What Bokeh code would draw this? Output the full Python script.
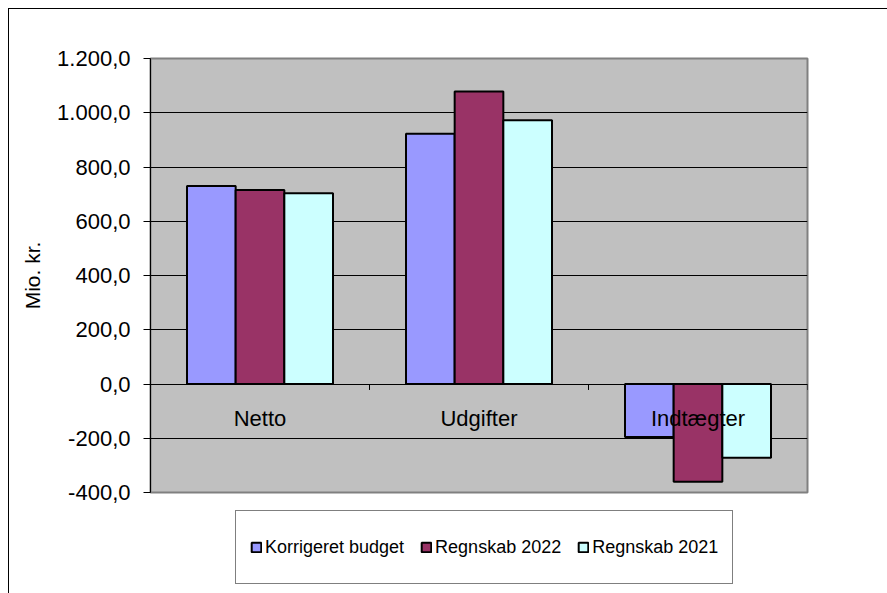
from bokeh.plotting import figure
from bokeh.models import Range1d, FixedTicker, ColumnDataSource, Legend
from bokeh.layouts import column
from bokeh.core.properties import value
from bokeh.embed import file_html
from bokeh.resources import INLINE

categories = ["Netto", "Udgifter", "Indtægter"]
series_names = ["Korrigeret budget", "Regnskab 2022", "Regnskab 2021"]
korrigeret_budget = [730, 923, -195]
regnskab_2022 = [715, 1078, -360]
regnskab_2021 = [703, 972, -272]
y_ticks = [-400, -200, 0, 200, 400, 600, 800, 1000, 1200]
y_tick_labels = ["-400,0", "-200,0", "0,0", "200,0", "400,0", "600,0", "800,0", "1.000,0", "1.200,0"]
y_axis_title = "Mio. kr."

colors = ["#9999FF", "#993366", "#CCFFFF"]
FONT = "Liberation Sans"

p = figure(width=879, height=497, output_backend="svg", toolbar_location=None,
           x_axis_location=None,
           x_range=Range1d(0, len(categories)), y_range=Range1d(y_ticks[0], y_ticks[-1]),
           min_border_left=141, min_border_right=81, min_border_top=49, min_border_bottom=14)
p.background_fill_color = "#C0C0C0"
p.border_fill_color = "white"
p.outline_line_color = "#808080"
p.outline_line_width = 2

bar_w = 2.0 / 9.0
centers = [i + 0.5 for i in range(len(categories))]
all_series = [korrigeret_budget, regnskab_2022, regnskab_2021]
sources = []
for k, (vals, col) in enumerate(zip(all_series, colors)):
    xs = [c + (k - 1) * bar_w for c in centers]
    src = ColumnDataSource(dict(x=xs, top=vals))
    sources.append(src)
    p.vbar(x="x", top="top", bottom=0, width=bar_w, source=src,
           fill_color=col, line_color="black", line_width=2)

# category boundary ticks on the zero line
bounds = list(range(1, len(categories) + 1))
p.segment(x0=bounds, x1=bounds, y0=[0] * len(bounds), y1=[-22] * len(bounds),
          line_color="black", line_width=1)

# category labels just below zero line
p.text(x=centers, y=[0] * len(centers), text=categories, text_align="center",
       text_baseline="alphabetic", y_offset=34, text_font=value(FONT),
       text_font_size="22px", text_color="black")

p.xgrid.visible = False
p.ygrid.grid_line_color = "black"
p.ygrid.grid_line_width = 1

ax = p.yaxis[0]
ax.ticker = FixedTicker(ticks=y_ticks)
ax.major_label_overrides = {t: l for t, l in zip(y_ticks, y_tick_labels)}
ax.major_label_text_font = FONT
ax.major_label_text_font_size = "22px"
ax.major_label_text_color = "black"
ax.major_tick_out = 7
ax.major_tick_in = 0
ax.minor_tick_out = 0
ax.minor_tick_in = 0
ax.major_label_standoff = 13
ax.axis_line_color = "black"
ax.major_tick_line_color = "black"
ax.axis_label = y_axis_title
ax.axis_label_text_font = FONT
ax.axis_label_text_font_size = "21px"
ax.axis_label_text_font_style = "normal"
ax.axis_label_text_color = "black"
ax.axis_label_standoff = 10

# legend panel (separate figure below the chart)
lg = figure(width=879, height=88, output_backend="svg", toolbar_location=None,
            x_axis_location=None, y_axis_location=None,
            x_range=Range1d(0, 1), y_range=Range1d(0, 1),
            min_border_left=0, min_border_right=0, min_border_top=0, min_border_bottom=0)
lg.outline_line_color = None
lg.background_fill_color = "white"
lg.border_fill_color = "white"
lg.xgrid.visible = False
lg.ygrid.visible = False
items = []
for name, col, src in zip(series_names, colors, sources):
    r = lg.vbar(x="x", top="top", bottom=0, width=bar_w, source=src, visible=False,
                fill_color=col, line_color="black", line_width=2)
    items.append((name, [r]))

legend = Legend(items=items, orientation="horizontal", location=(85, 10),
                label_text_font=FONT, label_text_font_size="18px", label_text_color="black",
                glyph_width=12, glyph_height=12, label_standoff=3, spacing=16,
                padding=14, margin=0, border_line_color="black", border_line_width=1,
                background_fill_color="white", background_fill_alpha=1.0, label_height=44,
                inactive_fill_alpha=0.0)
lg.add_layout(legend, "center")

layout = column(p, lg, spacing=0)
layout.styles = {"margin-left": "8px", "margin-top": "8px",
                 "border-top": "1px solid black", "border-left": "1px solid black"}

open("out.html", "w").write(file_html(layout, INLINE))
